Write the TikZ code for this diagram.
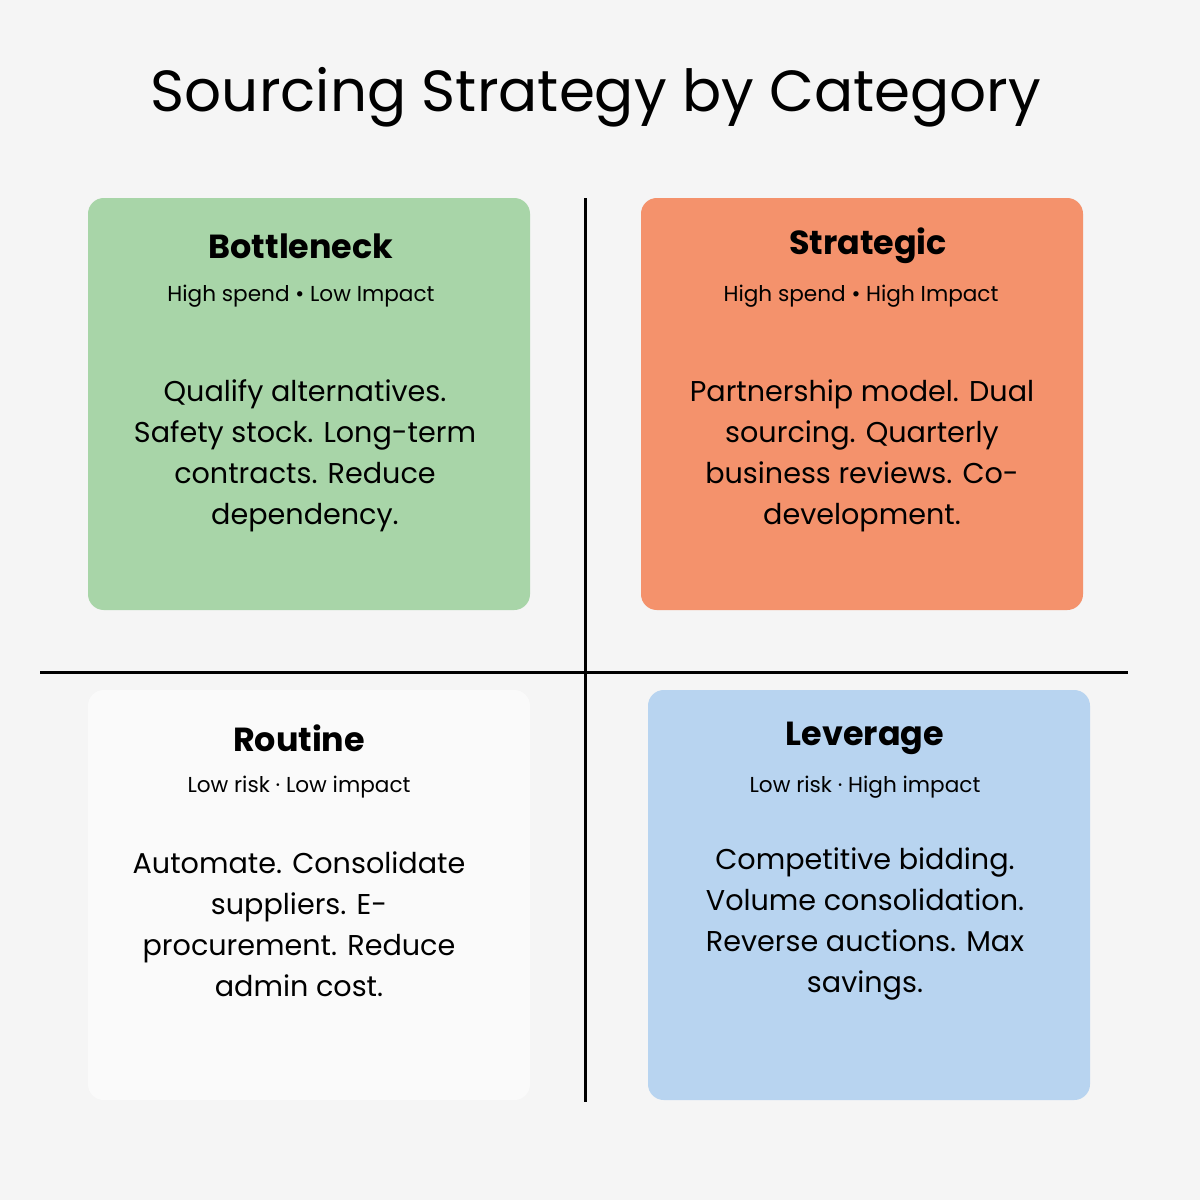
\documentclass[tikz,border=0pt]{standalone}
\usepackage{fontspec}
\setmainfont{Poppins}
\usetikzlibrary{positioning}
\definecolor{bgcol}{HTML}{F5F5F5}
\definecolor{greencol}{HTML}{A8D5A8}
\definecolor{orangecol}{HTML}{F4926C}
\definecolor{whitecol}{HTML}{FAFAFA}
\definecolor{bluecol}{HTML}{B8D4F0}
\tikzset{
  card/.style={draw=none,rounded corners=9pt},
  headtext/.style={font=\fontsize{19}{23}\selectfont\bfseries},
  subtext/.style={font=\fontsize{12.3}{15}\selectfont},
  bodytext/.style={font=\fontsize{16.3}{23.3}\selectfont,align=center},
  axis/.style={line width=1.7pt,black}
}
\begin{document}
\begin{tikzpicture}[x=0.02cm,y=-0.02cm]
  \fill[bgcol] (0,0) rectangle (1200,1200); % background
  \useasboundingbox (0,0) rectangle (1200,1200);
  \node[font=\fontsize{33}{40}\selectfont] (title) at (596,97) {Sourcing Strategy by Category}; % title

  \fill[card,greencol] (88,198) rectangle (530,610); % bottleneck
  \fill[card,orangecol] (641,198) rectangle (1083,610); % strategic
  \fill[card,whitecol] (88,690) rectangle (530,1100); % routine
  \fill[card,bluecol] (648,690) rectangle (1090,1100); % leverage

  \coordinate (vtop) at (585,198);
  \coordinate (vbot) at (585,1102);
  \coordinate (hleft) at (40,672);
  \coordinate (hright) at (1128,672);
  \draw[axis] (vtop) -- (vbot); % vertical axis
  \draw[axis] (hleft) -- (hright); % horizontal axis

  \node[headtext] (bottleneck) at (301,246) {Bottleneck};
  \node[subtext] (bottlenecksub) at (301,296) {High spend • Low Impact};
  \node[bodytext] (bottleneckbody) at (305,456) {Qualify alternatives.\\Safety stock. Long-term\\contracts. Reduce\\dependency.};

  \node[headtext] (strategic) at (868,246) {Strategic};
  \node[subtext] (strategicsub) at (861,296) {High spend • High Impact};
  \node[bodytext] (strategicbody) at (862,456) {Partnership model. Dual\\sourcing. Quarterly\\business reviews. Co-\\development.};

  \node[headtext] (routine) at (299,738) {Routine};
  \node[subtext] (routinesub) at (299,787) {Low risk · Low impact};
  \node[bodytext] (routinebody) at (299,924) {Automate. Consolidate\\suppliers. E-\\procurement. Reduce\\admin cost.};

  \node[headtext] (leverage) at (865,738) {Leverage};
  \node[subtext] (leveragesub) at (865,787) {Low risk · High impact};
  \node[bodytext] (leveragebody) at (865,924) {Competitive bidding.\\Volume consolidation.\\Reverse auctions. Max\\savings.};
\end{tikzpicture}
\end{document}
